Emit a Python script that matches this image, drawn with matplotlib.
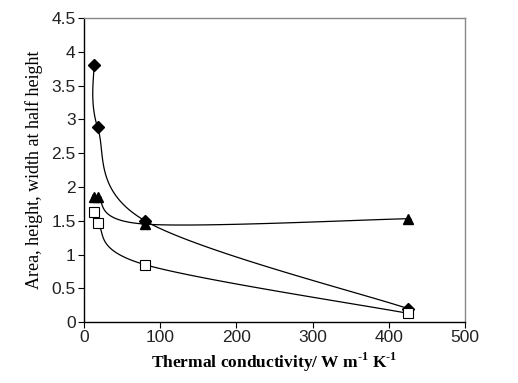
import numpy as np
import matplotlib
matplotlib.use("Agg")
import matplotlib.pyplot as plt

plt.rcParams["mathtext.fontset"] = "custom"
plt.rcParams["mathtext.rm"] = "Liberation Serif:bold"
plt.rcParams["mathtext.bf"] = "Liberation Serif:bold"

# thermal conductivity (W m-1 K-1)
k_values = [13, 18, 80, 425]
area = [3.8, 2.88, 1.5, 0.2]
height = [1.85, 1.85, 1.45, 1.53]
width = [1.63, 1.46, 0.85, 0.13]
height_err = [0.0, 0.0, 0.05, 0.0]
width_err = [0.06, 0.05, 0.03, 0.03]

x_ticks = [0, 100, 200, 300, 400, 500]
y_ticks = [0, 0.5, 1, 1.5, 2, 2.5, 3, 3.5, 4, 4.5]
y_tick_labels = ["0", "0.5", "1", "1.5", "2", "2.5", "3", "3.5", "4", "4.5"]


def smooth(ax, xs, ys, n=40):
    # Excel-like smoothed line (Catmull-Rom Bezier in screen space)
    pts = ax.transData.transform(np.column_stack([xs, ys]))
    p = np.vstack([pts[0], pts, pts[-1]])
    out = []
    for i in range(1, len(p) - 2):
        p0, p1, p2, p3 = p[i - 1], p[i], p[i + 1], p[i + 2]
        c1 = p1 + (p2 - p0) / 6
        c2 = p2 - (p3 - p1) / 6
        t = np.linspace(0, 1, n)[:, None]
        seg = ((1 - t) ** 3 * p1 + 3 * (1 - t) ** 2 * t * c1
               + 3 * (1 - t) * t ** 2 * c2 + t ** 3 * p2)
        out.append(seg)
    out = ax.transData.inverted().transform(np.vstack(out))
    return out[:, 0], out[:, 1]


fig = plt.figure(figsize=(5.18, 3.83), dpi=100)
ax = fig.add_axes([0.162, 0.159, 0.736, 0.794])
ax.set_xlim(0, 500)
ax.set_ylim(0, 4.5)

for ys in (area, height, width):
    sx, sy = smooth(ax, k_values, ys)
    ax.plot(sx, sy, color="black", lw=0.9, zorder=2)

ax.plot(k_values, area, linestyle="none", marker="D", ms=6, color="black", zorder=3)
ax.errorbar(k_values, height, yerr=height_err, linestyle="none", marker="^", ms=7.5,
            color="black", ecolor="black", elinewidth=0.8, capsize=2, zorder=3)
ax.errorbar(k_values, width, yerr=width_err, linestyle="none", marker="s", ms=7,
            mfc="white", mec="black", mew=0.8, ecolor="black", elinewidth=0.8,
            capsize=2, zorder=3)

ax.set_xticks(x_ticks)
ax.set_yticks(y_ticks)
ax.set_yticklabels(y_tick_labels)
ax.tick_params(direction="out", length=4, width=0.8, labelsize=12.5, pad=2)
for lab in ax.get_xticklabels() + ax.get_yticklabels():
    lab.set_fontfamily("Liberation Sans")
    lab.set_color("#222222")

for side in ("left", "bottom"):
    ax.spines[side].set_color("black")
    ax.spines[side].set_linewidth(1.0)
for side in ("top", "right"):
    ax.spines[side].set_color("#888888")
    ax.spines[side].set_linewidth(1.0)

ax.set_xlabel(r"Thermal conductivity/ W m$^{\text{-1}}$ K$^{\text{-1}}$",
              family="Liberation Serif", fontsize=12.5, fontweight="bold", labelpad=4)
ax.set_ylabel("Area, height, width at half height", family="Liberation Serif",
              fontsize=13, labelpad=6)

fig.savefig("out.png", dpi=100)
